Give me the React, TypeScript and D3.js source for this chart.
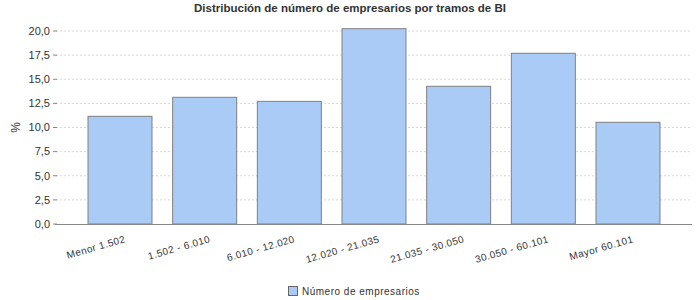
import React from "react";
import * as d3 from "d3";

const categories = ["Menor 1.502", "1.502 - 6.010", "6.010 - 12.020", "12.020 - 21.035", "21.035 - 30.050", "30.050 - 60.101", "Mayor 60.101"];
const values = [11.16, 13.13, 12.71, 20.24, 14.27, 17.69, 10.54];
const yTicks = [0, 2.5, 5, 7.5, 10, 12.5, 15, 17.5, 20];
const seriesName = "Número de empresarios";
const title = "Distribución de número de empresarios por tramos de BI";

const W = 700, H = 300;
const left = 56, right = 692, top = 31, bottom = 224;

export default function App() {
  const x = d3.scaleBand<string>().domain(categories).range([left, right]).paddingInner(0.244).paddingOuter(0.378);
  const y = d3.scaleLinear().domain([0, 20]).range([bottom, top]);
  const fmt = (v: number) => v.toFixed(1).replace(".", ",");
  const font = "'Liberation Sans', Arial, sans-serif";
  return (
    <svg width={W} height={H} style={{ position: "absolute", left: 0, top: 0 }} fontFamily={font}>
      <rect x={0} y={0} width={W} height={H} fill="#fff" />
      <text x={350} y={12} textAnchor="middle" fontSize={11.5} fontWeight="bold" fill="#333">{title}</text>
      {yTicks.map((t) => (
        <g key={t}>
          {t > 0 && <line x1={left} x2={right} y1={y(t)} y2={y(t)} stroke="#d8d8d8" strokeDasharray="2,2" strokeWidth={1} />}
          <line x1={53} x2={57} y1={y(t)} y2={y(t)} stroke="#888" />
          <text x={50} y={y(t)} dy="0.35em" textAnchor="end" fontSize={11} fill="#333">{fmt(t)}</text>
        </g>
      ))}
      <text transform={`translate(20,${(top + bottom) / 2}) rotate(-90)`} textAnchor="middle" fontSize={12} fill="#333">%</text>
      {categories.map((c, i) => (
        <rect key={c} x={x(c)!} y={y(values[i])} width={x.bandwidth()} height={bottom - y(values[i])} fill="#a9cbf5" stroke="#808080" strokeWidth={1} />
      ))}
      <line x1={left - 1} x2={right} y1={bottom + 0.5} y2={bottom + 0.5} stroke="#888" />
      {categories.map((c) => (
        <text key={c} transform={`translate(${x(c)! + x.bandwidth() / 2 + 6},${bottom + 18}) rotate(-16)`} textAnchor="end" fontSize={10} fill="#333" letterSpacing={0.4}>{c}</text>
      ))}
      <rect x={288.5} y={286.5} width={9} height={9} fill="#a9cbf5" stroke="#666" />
      <text x={302} y={294.5} fontSize={10} fill="#333" letterSpacing={0.5}>{seriesName}</text>
    </svg>
  );
}
